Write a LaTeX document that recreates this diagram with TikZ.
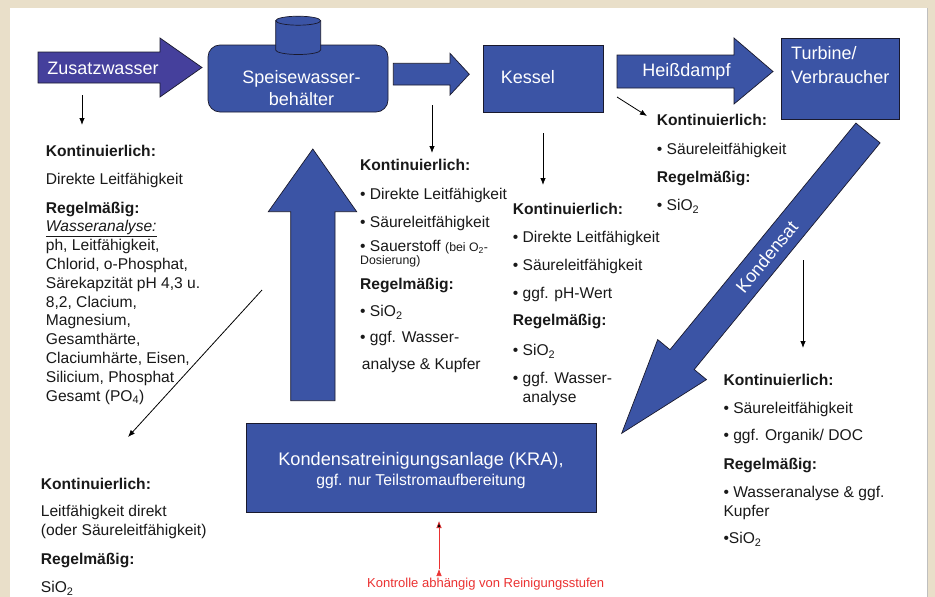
\documentclass[tikz,border=0pt]{standalone}
\usepackage{fontspec}
\setmainfont{Liberation Sans}
\usetikzlibrary{arrows.meta}

\definecolor{panelbeige}{RGB}{233,223,201}
\definecolor{flowblue}{RGB}{59,84,165}
\definecolor{zusatzblue}{RGB}{69,64,156}
\definecolor{outline}{RGB}{25,25,45}
\definecolor{kontrollred}{RGB}{235,50,50}

\newcommand{\kleinfont}{\fontsize{12.3}{13.3}\selectfont}

\tikzset{
  box/.style={draw=outline, fill=flowblue, line width=0.7pt, inner sep=0pt},
  flow/.style={draw=outline, fill=flowblue, line width=0.7pt},
  boxtext/.style={text=white, inner sep=0pt, font=\fontsize{18}{21.7}\selectfont},
  info/.style={anchor=north west, align=left, inner sep=0pt, text=black!90, font=\fontsize{15.6}{18.8}\selectfont},
  probe/.style={-{Latex[length=7pt,width=5.5pt]}, line width=0.8pt},
}

\begin{document}
\begin{tikzpicture}[x=1pt,y=1pt]
\useasboundingbox (0,0) rectangle (935,-597);
% frame
\fill[panelbeige] (0,0) rectangle (935,-597);
\fill[white] (10,-8) rectangle (927,-597);
\draw[black!25] (927,-8) -- (927,-597);

% flow arrows
\draw[flow, fill=zusatzblue] (38,-52) -- (160,-52) -- (160,-38) -- (202,-67.5) -- (160,-97) -- (160,-83) -- (38,-83) -- cycle;
\draw[flow] (393.3,-63.3) -- (450,-63.3) -- (450,-53.3) -- (469.3,-74.2) -- (450,-95) -- (450,-85) -- (393.3,-85) -- cycle;
\draw[flow] (617,-55) -- (734,-55) -- (734,-38) -- (773,-71.5) -- (734,-104) -- (734,-88) -- (617,-88) -- cycle;
\draw[flow] (855.9,-123.1) -- (670.0,-349.7) -- (657.7,-339.6) -- (621.7,-433.3) -- (706.5,-379.6) -- (694.2,-369.5) -- (880.1,-142.9) -- cycle;
\draw[flow] (290.7,-400.7) -- (290.7,-211.7) -- (268.3,-211.7) -- (312.8,-149) -- (356.7,-211.7) -- (335,-211.7) -- (335,-400.7) -- cycle;

% boxes
\node[box, rounded corners=12pt, minimum width=180pt, minimum height=67pt] (speise) at (298,-78.5) {};
\draw[flow] (275.7,-20.7) -- (275.7,-50) arc[start angle=180, end angle=360, x radius=22.5, y radius=4.5] -- (320.7,-20.7);
\draw[flow] (298.2,-20.7) ellipse [x radius=22.5, y radius=4.5];
\node[box, minimum width=120pt, minimum height=67pt] (kessel) at (543,-78.5) {};
\node[box, minimum width=118pt, minimum height=81pt] (turbine) at (840,-78.5) {};
\node[box, minimum width=350pt, minimum height=89pt] (kra) at (421,-467.5) {};

% labels
\node[boxtext] (zusatz) at (103,-68) {Zusatzwasser};
\node[boxtext, align=center] (speiselabel) at (301.5,-88.2) {Speisewasser-\\behälter};
\node[boxtext, anchor=west] (kessellabel) at (500.7,-77.3) {Kessel};
\node[boxtext] (dampf) at (686.5,-71.8) {Heißdampf};
\node[boxtext, anchor=west, align=left, font=\fontsize{18}{23.4}\selectfont] (turbinelabel) at (791,-65) {Turbine/\\Verbraucher};
\node[boxtext, rotate=50.6] (kondensat) at (766.7,-256.7) {Kondensat};
\node[boxtext, align=center, font=\fontsize{18.2}{19.8}\selectfont] (kralabel) at (421,-470.7) {Kondensatreinigungsanlage (KRA),\\{\fontsize{15.7}{19.8}\selectfont ggf. nur Teilstromaufbereitung}};

% measuring points
\node[info] (infozusatz) at (45.7,-145.1) {\textbf{Kontinuierlich:}\\[9.4pt]
  Direkte Leitfähigkeit\\[9.4pt]
  \textbf{Regelmäßig:}\\
  \underline{\textit{Wasseranalyse:}}\\
  ph, Leitfähigkeit,\\
  Chlorid, o-Phosphat,\\
  Särekapzität pH 4,3 u.\\
  8,2, Clacium,\\
  Magnesium,\\
  Gesamthärte,\\
  Claciumhärte, Eisen,\\
  Silicium, Phosphat\\
  Gesamt (PO\textsubscript{4})};
\node[info] (infospeise) at (360,-159.4) {\textbf{Kontinuierlich:}\\[9.4pt]
  • Direkte Leitfähigkeit\\[9.4pt]
  • Säureleitfähigkeit\\[5.5pt]
  • Sauerstoff {\kleinfont (bei O\textsubscript{2}-}\\[-5.5pt]
  {\kleinfont Dosierung)}\\[6.2pt]
  \textbf{Regelmäßig:}\\[7.9pt]
  • SiO\textsubscript{2}\\[7.2pt]
  • ggf. Wasser-\\[8.5pt]
  \hspace{1.7pt}analyse \& Kupfer};
\node[info] (infokessel) at (512.7,-202.7) {\textbf{Kontinuierlich:}\\[9.4pt]
  • Direkte Leitfähigkeit\\[9.4pt]
  • Säureleitfähigkeit\\[9.4pt]
  • ggf. pH-Wert\\[7.9pt]
  \textbf{Regelmäßig:}\\[11.2pt]
  • SiO\textsubscript{2}\\[9.5pt]
  • ggf. Wasser-\\
  \phantom{•\ }analyse};
\node[info] (infodampf) at (656.7,-114.4) {\textbf{Kontinuierlich:}\\[9.4pt]
  • Säureleitfähigkeit\\[9.4pt]
  \textbf{Regelmäßig:}\\[9.4pt]
  • SiO\textsubscript{2}};
\node[info] (infokondensat) at (723.3,-373.7) {\textbf{Kontinuierlich:}\\[9.2pt]
  • Säureleitfähigkeit\\[8.9pt]
  • ggf. Organik/ DOC\\[9.5pt]
  \textbf{Regelmäßig:}\\[9.6pt]
  • Wasseranalyse \& ggf.\\
  Kupfer\\[8.5pt]
  •SiO\textsubscript{2}};
\node[info] (infokra) at (40.7,-477.7) {\textbf{Kontinuierlich:}\\[8.9pt]
  Leitfähigkeit direkt\\
  (oder Säureleitfähigkeit)\\[9.5pt]
  \textbf{Regelmäßig:}\\[9.6pt]
  SiO\textsubscript{2}};
\node[text=kontrollred, inner sep=0pt, font=\fontsize{13}{15}\selectfont] (kontrolle) at (485.7,-584.6) {Kontrolle abhängig von Reinigungsstufen};

% probe arrows
\coordinate (zusatzA) at (82,-95);
\coordinate (zusatzB) at (82,-125);
\coordinate (speiseA) at (432,-105);
\coordinate (speiseB) at (432,-153);
\coordinate (kesselA) at (543,-133);
\coordinate (kesselB) at (543,-185);
\coordinate (dampfA) at (617,-97);
\coordinate (dampfB) at (647,-116);
\coordinate (kondA) at (803,-260);
\coordinate (kondB) at (803,-348);
\coordinate (kraA) at (262,-290);
\coordinate (kraB) at (128,-437);
\coordinate (kontrA) at (439,-569);
\coordinate (kontrB) at (439,-521);
\path [probe] (zusatzA) edge (zusatzB);
\path [probe] (speiseA) edge (speiseB);
\path [probe] (kesselA) edge (kesselB);
\path [probe] (dampfA) edge (dampfB);
\path [probe] (kondA) edge (kondB);
\path [probe] (kraA) edge (kraB);
\path [probe, draw=kontrollred, line width=0.6pt] (kontrA) edge (kontrB);
\end{tikzpicture}
\end{document}
